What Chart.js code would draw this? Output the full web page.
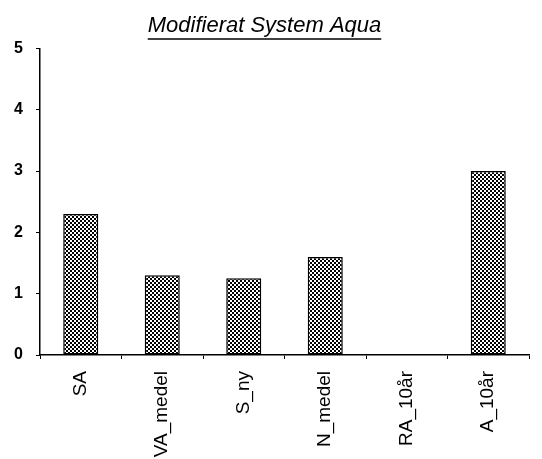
<!DOCTYPE html>
<html>
<head>
<meta charset="utf-8">
<script src="https://cdn.jsdelivr.net/npm/chart.js@4/dist/chart.umd.min.js"></script>
<style>
    html, body { margin: 0; padding: 0; background: #fff; }
    #wrap { width: 542px; height: 459px; }
</style>
</head>
<body>
<div id="wrap"><canvas id="meuGrafico"></canvas></div>
<script>
// Dados
const categorias = ["SA", "VA_medel", "S_ny", "N_medel", "RA_10år", "A_10år"];
const valores = [2.3, 1.3, 1.25, 1.6, 0, 3.0];
const yTicks = [0, 1, 2, 3, 4, 5];
const titulo = "Modifierat System Aqua";

const fonte = "'Liberation Sans', Arial, sans-serif";

// padrão quadriculado (estilo impressão antiga)
function makePattern() {
    const c = document.createElement("canvas");
    c.width = 8;
    c.height = 8;
    const g = c.getContext("2d");
    g.fillStyle = "#fff";
    g.fillRect(0, 0, 8, 8);
    g.fillStyle = "#000";
    for (let y = 0; y < 8; y++) {
        for (let x = 0; x < 8; x++) {
            const cheq = (Math.floor(x / 2) + Math.floor(y / 2)) % 2 === 0;
            const diag = (x + y) % 8 === 5;
            if (cheq || diag) g.fillRect(x, y, 1, 1);
        }
    }
    return g.createPattern(c, "repeat");
}

// sublinhado no título
const underlineTitle = {
    id: "underlineTitle",
    afterDraw(chart) {
        const t = chart.titleBlock;
        if (!t) return;
        const ctx = chart.ctx;
        ctx.save();
        ctx.font = "italic 22px " + fonte;
        const w = ctx.measureText(titulo).width;
        const cx = (t.left + t.right) / 2;
        const y = t.bottom - t.options.padding.bottom;
        ctx.strokeStyle = "#000";
        ctx.lineWidth = 1.5;
        ctx.beginPath();
        ctx.moveTo(cx - w / 2, Math.round(y));
        ctx.lineTo(cx + w / 2, Math.round(y));
        ctx.stroke();
        ctx.restore();
    },
};

const ctx = document.getElementById("meuGrafico").getContext("2d");

new Chart(ctx, {
    type: "bar",
    data: {
        labels: categorias,
        datasets: [
            {
                data: valores,
                backgroundColor: makePattern(),
                borderColor: "#000",
                borderWidth: 1.5,
                borderSkipped: false,
                categoryPercentage: 1,
                barPercentage: 0.43,
            },
        ],
    },
    options: {
        responsive: true,
        maintainAspectRatio: false,
        animation: false,
        layout: { padding: { left: 0, right: 13, top: 0, bottom: 0 } },
        plugins: {
            legend: { display: false },
            tooltip: { enabled: false },
            title: {
                display: true,
                text: titulo,
                color: "#000",
                font: { family: fonte, size: 22, style: "italic", weight: "normal" },
                padding: { top: 13, bottom: 9 },
            },
        },
        scales: {
            x: {
                grid: {
                    offset: true,
                    drawOnChartArea: false,
                    drawTicks: true,
                    tickLength: 4,
                    color: "#000",
                },
                border: { color: "#000", width: 1.5 },
                ticks: {
                    color: "#000",
                    minRotation: 90,
                    maxRotation: 90,
                    autoSkip: false,
                    padding: 12,
                    font: { family: fonte, size: 19 },
                },
                afterFit: (scale) => {
                    scale.height = 104; // deixa o rótulo longo ser cortado como no original
                },
            },
            y: {
                min: 0,
                max: 5,
                afterBuildTicks: (scale) => {
                    scale.ticks = yTicks.map((v) => ({ value: v }));
                },
                grid: {
                    drawOnChartArea: false,
                    drawTicks: true,
                    tickLength: 4,
                    color: "#000",
                },
                border: { color: "#000", width: 1.5 },
                ticks: {
                    color: "#000",
                    padding: 13,
                    font: { family: fonte, size: 16, weight: "bold" },
                },
                afterFit: (scale) => {
                    scale.width = 40;
                },
            },
        },
    },
    plugins: [underlineTitle],
});
</script>
</body>
</html>
